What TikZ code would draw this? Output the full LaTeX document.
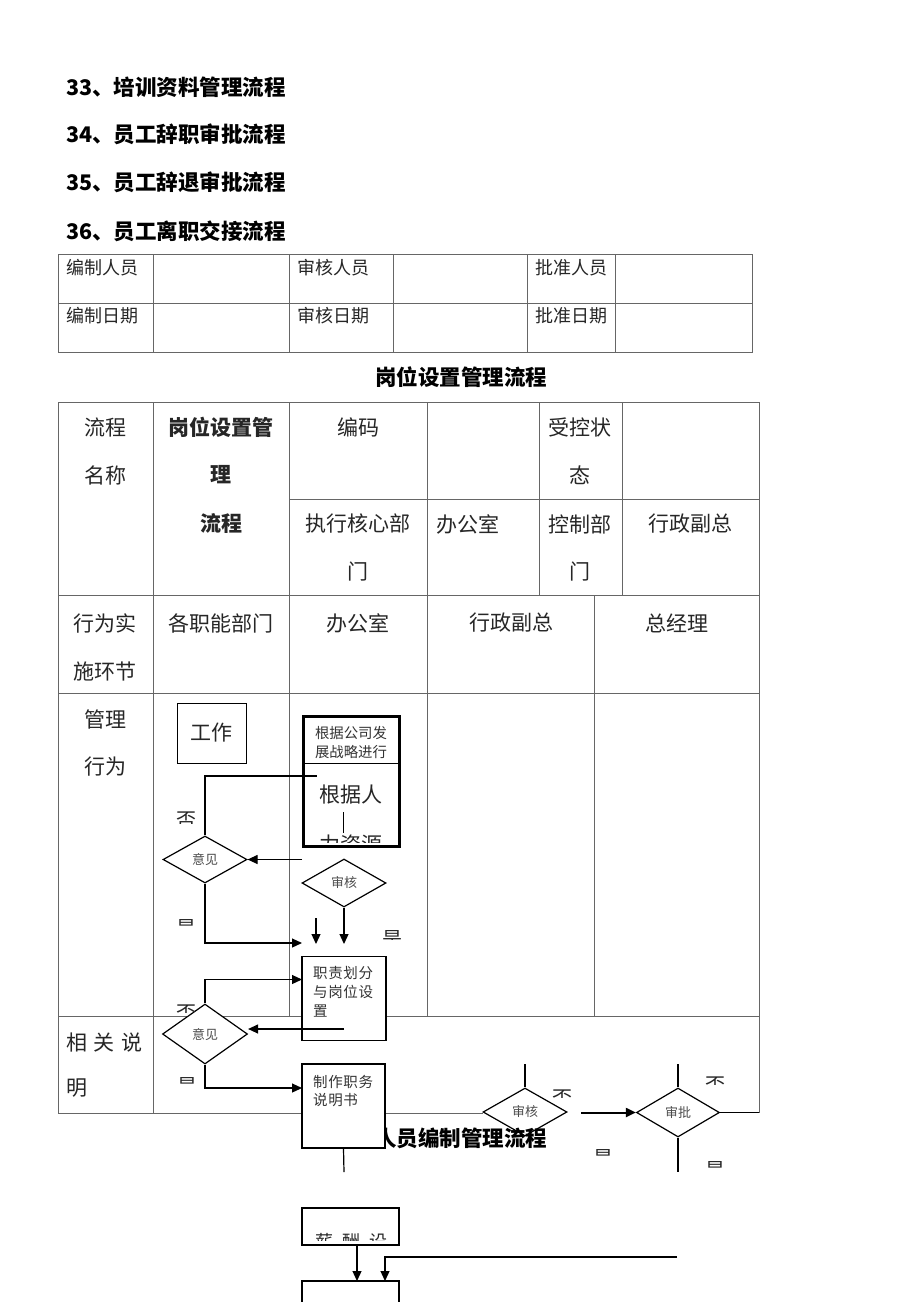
\documentclass[tikz,border=0pt]{standalone}
\usepackage{fontspec}
\setmainfont{Noto Sans CJK SC}
\usetikzlibrary{arrows.meta,shapes.geometric}
\newcommand\cutlbl[5]{%
  \begin{scope}\clip ({#1-16},{#2-6}) rectangle ({#1+16},#3);
  \node[lbl,anchor=base] (#5) at (#1,{#2+16.6}) {#4};\end{scope}}
\begin{document}
\begin{tikzpicture}[x=1pt,y=-1pt,
  tl/.style={draw=black!60,line width=1pt},
  fl/.style={draw=black,line width=1.2pt},
  arr/.style={fl,-{Triangle[length=10pt,width=9pt]}},
  tt/.style={inner sep=0pt,text=black!85,font=\fontsize{21}{25}\selectfont},
  st/.style={inner sep=0pt,text=black!85,font=\fontsize{18}{22}\selectfont},
  hd/.style={inner sep=0pt,anchor=west,font=\fontsize{21.5}{26}\selectfont\bfseries},
  sm/.style={inner sep=0pt,anchor=west,text=black!80,font=\fontsize{14.5}{17}\selectfont},
  bx/.style={fl,fill=white,inner sep=0pt},
  dm/.style={fl,fill=white,diamond,inner sep=0pt,font=\fontsize{13}{15}\selectfont,text=black!70},
  lbl/.style={inner sep=0pt,font=\fontsize{20}{22}\selectfont,text=black!85},
]
\fill[white] (0,0) rectangle (920,1302);
\useasboundingbox (0,0) rectangle (920,1302);

% headings
\node[hd] (h33) at (66,87) {33、培训资料管理流程};
\node[hd] (h34) at (66,134) {34、员工辞职审批流程};
\node[hd] (h35) at (66,182) {35、员工辞退审批流程};
\node[hd] (h36) at (66,231) {36、员工离职交接流程};

% top table
\draw[tl] (58,254) rectangle (752,352);
\draw[tl] (58,303) -- (752,303);
\foreach \x in {153,289,393,527,615} \draw[tl] (\x,254) -- (\x,352);
\node[st,anchor=west] (a1) at (66,268) {编制人员};
\node[st,anchor=west] (a2) at (66,316) {编制日期};
\node[st,anchor=west] (a3) at (297,268) {审核人员};
\node[st,anchor=west] (a4) at (297,316) {审核日期};
\node[st,anchor=west] (a5) at (535,268) {批准人员};
\node[st,anchor=west] (a6) at (535,316) {批准日期};

% title
\node[tt,font=\fontsize{21.5}{26}\selectfont\bfseries,text=black] (t1) at (461,377) {岗位设置管理流程};

% main table lines
\draw[tl] (58,402) -- (759,402);
\draw[tl] (58,402) -- (58,1113);
\draw[tl] (759,402) -- (759,1113);
\draw[tl] (289,499) -- (759,499);
\draw[tl] (58,595) -- (759,595);
\draw[tl] (58,693) -- (759,693);
\draw[tl] (58,1016) -- (759,1016);
\draw[tl] (58,1113) -- (483,1113);
\draw[tl] (153,402) -- (153,1113);
\draw[tl] (289,402) -- (289,1016);
\draw[tl] (427,402) -- (427,1016);
\draw[tl] (539,402) -- (539,595);
\draw[tl] (622,402) -- (622,595);
\draw[tl] (594,595) -- (594,1016);

% main table texts
\node[tt] (m1) at (105,427) {流程};
\node[tt] (m2) at (105,475) {名称};
\node[tt,font=\fontsize{21}{25}\selectfont\bfseries] (m3) at (221,427) {岗位设置管};
\node[tt,font=\fontsize{21}{25}\selectfont\bfseries] (m4) at (221,475) {理};
\node[tt,font=\fontsize{21}{25}\selectfont\bfseries] (m5) at (221,523) {流程};
\node[tt] (m6) at (358,427) {编码};
\node[tt] (m7) at (580,427) {受控状};
\node[tt] (m8) at (580,475) {态};
\node[tt] (m9) at (358,524) {执行核心部};
\node[tt] (m10) at (358,572) {门};
\node[tt,anchor=west] (m11) at (436,524) {办公室};
\node[tt] (m12) at (580,524) {控制部};
\node[tt] (m13) at (580,572) {门};
\node[tt] (m14) at (690,524) {行政副总};
\node[tt] (r1) at (105,623) {行为实};
\node[tt] (r2) at (105,671) {施环节};
\node[tt] (r3) at (221,623) {各职能部门};
\node[tt] (r4) at (358,623) {办公室};
\node[tt] (r5) at (511,623) {行政副总};
\node[tt] (r6) at (677,623) {总经理};
\node[tt] (g1) at (105,719) {管理};
\node[tt] (g2) at (105,767) {行为};
\node[tt,anchor=west] (s1) at (66,1043) {相\hspace{6.5pt}关\hspace{6.5pt}说};
\node[tt,anchor=west] (s2) at (66,1088) {明};

% flowchart, upper part
\node[bx,minimum width=69pt,minimum height=60pt,line width=1pt,font=\fontsize{21}{25}\selectfont,text=black!85] (gz) at (211.5,733) {工作};
\node[fl,line width=3pt,fill=white,inner sep=0pt,minimum width=96pt,minimum height=130pt] (big) at (351,781) {};
\draw[fl,line width=1pt] (303,763) -- (399,763);
\node[sm,anchor=center,font=\fontsize{14.4}{17}\selectfont] (b1) at (351,733) {根据公司发};
\node[sm,anchor=center,font=\fontsize{14.4}{17}\selectfont] (b2) at (351,752) {展战略进行};
\node[tt] (b3) at (351,795) {根据人};
\draw[fl,line width=1pt] (343,812) -- (343,833);
\begin{scope}\clip (305,765) rectangle (397,842);
\node[tt,anchor=base] (b4) at (351,852) {力资源};
\end{scope}

\node[dm,minimum width=84pt,minimum height=47pt] (yj1) at (205,859.5) {意见};
\node[dm,minimum width=84pt,minimum height=48pt] (sh) at (344,883) {审核};
\coordinate (c1) at (317,776);
\draw[fl] (yj1.north) |- (c1);
\coordinate (c2) at (302,859.5);
\draw[arr] (c2) -- (yj1.east);
\coordinate (c3) at (302,943);
\draw[arr] (yj1.south) |- (c3);
\coordinate (c4) at (344,944);
\draw[arr] (sh.south) -- (c4);
\coordinate (c5) at (316,918);
\coordinate (c6) at (316,944);
\draw[arr] (c5) -- (c6);

\node[bx,minimum width=84pt,minimum height=84pt] (zz) at (344,998.5) {};
\node[sm] (zz1) at (313,973) {职\hspace{0.6pt}责\hspace{0.6pt}划\hspace{0.6pt}分};
\node[sm] (zz2) at (313,992) {与\hspace{0.6pt}岗\hspace{0.6pt}位\hspace{0.6pt}设};
\node[sm] (zz3) at (313,1011) {置};

\node[dm,minimum width=85pt,minimum height=60pt] (yj2) at (205,1034) {意见};
\coordinate (c7) at (302,979.5);
\draw[arr] (yj2.north) |- (c7);
\coordinate (c8) at (344,1029);
\draw[arr] (c8) -- (c8 -| yj2.east);
\coordinate (c9) at (302,1088);
\draw[arr] (yj2.south) |- (c9);

% lower part
\node[dm,minimum width=84pt,minimum height=48pt] (sh2) at (525,1112) {审核};
\node[dm,minimum width=83pt,minimum height=49pt] (sp) at (678,1112.5) {审批};
\node[tt,font=\fontsize{21.5}{26}\selectfont\bfseries,text=black] (t2) at (461,1138) {人员编制管理流程};
\node[bx,minimum width=83pt,minimum height=84pt] (zw) at (343.5,1106) {};
\node[sm] (zw1) at (313,1082) {制\hspace{0.6pt}作\hspace{0.6pt}职\hspace{0.6pt}务};
\node[sm] (zw2) at (313,1100) {说\hspace{0.6pt}明\hspace{0.6pt}书};
\coordinate (c10) at (344,1172);
\draw[fl] (zw.south) -- (c10);
\coordinate (c11) at (525,1064);
\draw[fl] (c11) -- (sh2.north);
\coordinate (c12) at (678,1064);
\draw[fl] (c12) -- (sp.north);
\coordinate (c13) at (581,1112.5);
\draw[arr,line width=2pt] (c13) -- (sp.west);
\coordinate (c14) at (759,1112.5);
\draw[fl] (sp.east) -- (c14);
\coordinate (c15) at (678,1172);
\draw[fl] (sp.south) -- (c15);

\node[bx,minimum width=97pt,minimum height=37pt] (xc) at (350.5,1226.5) {};
\begin{scope}\clip (304,1210) rectangle (397,1240);
\node[inner sep=0pt,anchor=base,text=black!85,font=\fontsize{18}{22}\selectfont] (xc1) at (351,1248) {薪\hspace{9pt}酬\hspace{9pt}设};
\end{scope}
\coordinate (c16) at (357,1245);
\coordinate (c17) at (357,1281);
\draw[arr] (c16) -- (c17);
\coordinate (c18) at (677,1257);
\coordinate (c19) at (385,1281);
\draw[arr] (c18) -| (c19);
\node[bx,minimum width=97pt,minimum height=60pt] (bx) at (350.5,1311) {};

% clipped yes/no labels
\cutlbl{186}{811}{823}{否}{l1}
\cutlbl{186}{919}{925}{是}{l2}
\cutlbl{392}{930}{939}{是}{l3}
\cutlbl{186}{1004}{1012}{否}{l4}
\cutlbl{187}{1077}{1083}{是}{l5}
\cutlbl{562}{1089}{1097}{否}{l6}
\cutlbl{715}{1076}{1084}{否}{l7}
\cutlbl{603}{1149}{1155}{是}{l8}
\cutlbl{715}{1161}{1167}{是}{l9}
\end{tikzpicture}
\end{document}
